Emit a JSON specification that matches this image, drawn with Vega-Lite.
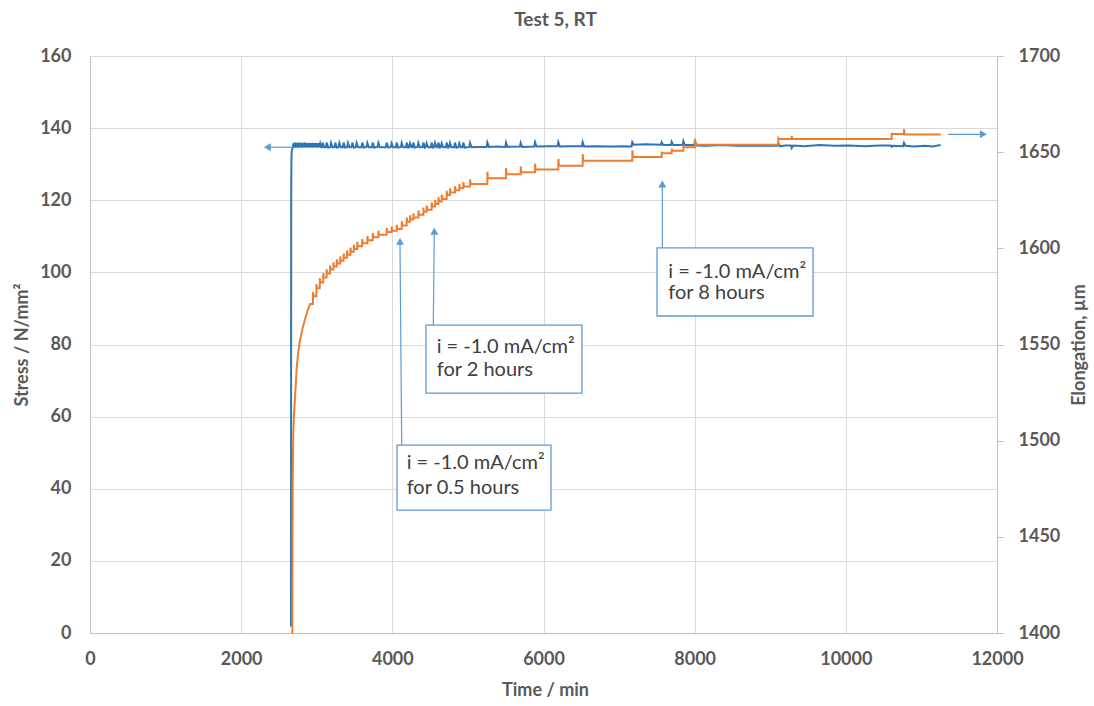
{
  "$schema": "https://vega.github.io/schema/vega-lite/v6.json",
  "width": 907,
  "height": 577,
  "autosize": {"type": "none"},
  "padding": {"left": 90, "top": 56, "right": 97, "bottom": 73},
  "background": "white",
  "title": {"text": "Test 5, RT", "anchor": "middle", "dx": 12, "offset": 17, "fontSize": 19, "font": "Lato", "fontWeight": "bold", "color": "#595959"},
  "config": {
    "view": {"stroke": null},
    "axis": {
      "labelFont": "Lato", "labelFontSize": 18, "labelFontWeight": "bold", "labelColor": "#595959",
      "titleFont": "Lato", "titleFontSize": 18, "titleFontWeight": "bold", "titleColor": "#595959",
      "domainColor": "#bfbfbf", "gridColor": "#d9d9d9", "tickColor": "#bfbfbf", "labelFlush": false, "format": "d"
    }
  },
  "datasets": {
    "stress": [
      {"t":2659,"v":1.8},{"t":2660,"v":40},{"t":2661,"v":90},{"t":2662,"v":120},{"t":2664,"v":130},{"t":2668,"v":133.5},{"t":2680,"v":134.5},
      {"t":2695,"v":135.9},{"t":2705,"v":134.6},{"t":2720,"v":136.0},{"t":2730,"v":134.6},{"t":2745,"v":135.9},{"t":2755,"v":134.6},{"t":2770,"v":136.0},{"t":2780,"v":134.7},{"t":2795,"v":135.9},{"t":2805,"v":134.6},{"t":2820,"v":135.9},{"t":2830,"v":134.7},{"t":2845,"v":136.0},{"t":2855,"v":134.6},{"t":2870,"v":135.8},{"t":2880,"v":134.7},{"t":2895,"v":135.9},{"t":2905,"v":134.6},{"t":2920,"v":135.8},{"t":2930,"v":134.7},{"t":2945,"v":135.9},{"t":2955,"v":134.6},{"t":2970,"v":135.8},{"t":2980,"v":134.7},{"t":2995,"v":135.8},{"t":3005,"v":134.6},{"t":3020,"v":135.8},{"t":3030,"v":134.7},{"t":3045,"v":135.8},{"t":3058,"v":134.7},
      {"t":3068,"v":134.7},{"t":3078,"v":136.0},{"t":3098,"v":134.7},
      {"t":3121,"v":134.7},{"t":3131,"v":136.0},{"t":3151,"v":134.6},
      {"t":3179,"v":134.7},{"t":3189,"v":135.9},{"t":3209,"v":134.7},
      {"t":3236,"v":134.7},{"t":3246,"v":136.0},{"t":3266,"v":134.6},
      {"t":3289,"v":134.7},{"t":3299,"v":135.9},{"t":3319,"v":134.7},
      {"t":3346,"v":134.7},{"t":3356,"v":136.0},{"t":3376,"v":134.6},
      {"t":3403,"v":134.7},{"t":3413,"v":135.9},{"t":3433,"v":134.7},
      {"t":3461,"v":134.7},{"t":3471,"v":136.0},{"t":3491,"v":134.6},
      {"t":3518,"v":134.7},{"t":3528,"v":135.9},{"t":3548,"v":134.7},
      {"t":3593,"v":134.7},{"t":3603,"v":136.0},{"t":3623,"v":134.6},
      {"t":3659,"v":134.8},{"t":3669,"v":135.9},{"t":3689,"v":134.7},
      {"t":3730,"v":134.7},{"t":3740,"v":136.0},{"t":3760,"v":134.6},
      {"t":3805,"v":134.8},{"t":3815,"v":135.9},{"t":3835,"v":134.7},
      {"t":3915,"v":134.7},{"t":3925,"v":136.0},{"t":3945,"v":134.6},
      {"t":3981,"v":134.8},{"t":3991,"v":135.8},{"t":4011,"v":134.7},
      {"t":4047,"v":134.7},{"t":4057,"v":136.0},{"t":4077,"v":134.6},
      {"t":4114,"v":134.8},{"t":4124,"v":135.9},{"t":4144,"v":134.7},
      {"t":4180,"v":134.7},{"t":4190,"v":136.0},{"t":4210,"v":134.6},
      {"t":4224,"v":134.8},{"t":4234,"v":135.8},{"t":4254,"v":134.7},
      {"t":4268,"v":134.7},{"t":4278,"v":136.0},{"t":4298,"v":134.6},
      {"t":4334,"v":134.8},{"t":4344,"v":135.9},{"t":4364,"v":134.7},
      {"t":4400,"v":134.7},{"t":4410,"v":136.0},{"t":4430,"v":134.6},
      {"t":4444,"v":134.8},{"t":4454,"v":135.8},{"t":4474,"v":134.7},
      {"t":4510,"v":134.7},{"t":4520,"v":136.0},{"t":4540,"v":134.6},
      {"t":4555,"v":134.8},{"t":4565,"v":135.9},{"t":4585,"v":134.7},
      {"t":4599,"v":134.7},{"t":4609,"v":136.0},{"t":4629,"v":134.6},
      {"t":4643,"v":134.8},{"t":4653,"v":135.8},{"t":4673,"v":134.7},
      {"t":4709,"v":134.7},{"t":4719,"v":136.0},{"t":4739,"v":134.6},
      {"t":4753,"v":134.8},{"t":4763,"v":135.9},{"t":4783,"v":134.7},
      {"t":4819,"v":134.7},{"t":4829,"v":136.0},{"t":4849,"v":134.6},
      {"t":4876,"v":134.8},{"t":4886,"v":135.8},{"t":4906,"v":134.7},
      {"t":4929,"v":134.7},{"t":4939,"v":136.0},{"t":4959,"v":134.6},
      {"t":5018,"v":134.8},{"t":5028,"v":135.9},{"t":5048,"v":134.7},
      {"t":5140,"v":134.8},
      {"t":5247,"v":134.8},{"t":5257,"v":136.0},{"t":5277,"v":134.8},
      {"t":5380,"v":134.9},
      {"t":5494,"v":134.8},{"t":5504,"v":136.0},{"t":5524,"v":134.8},
      {"t":5688,"v":134.9},{"t":5698,"v":135.9},{"t":5718,"v":134.8},
      {"t":5878,"v":134.9},{"t":5888,"v":136.1},{"t":5908,"v":134.9},
      {"t":6050,"v":135.0},
      {"t":6186,"v":135.0},{"t":6196,"v":136.1},{"t":6216,"v":134.9},
      {"t":6350,"v":135.0},
      {"t":6508,"v":135.0},{"t":6518,"v":136.1},{"t":6538,"v":134.9},
      {"t":6700,"v":135.0},{"t":6900,"v":134.9},{"t":7050,"v":135.0},
      {"t":7165,"v":134.9},{"t":7175,"v":136.1},{"t":7195,"v":135.4},
      {"t":7350,"v":135.5},
      {"t":7553,"v":135.4},{"t":7563,"v":136.1},{"t":7583,"v":135.3},
      {"t":7686,"v":135.3},{"t":7696,"v":136.2},{"t":7716,"v":135.3},
      {"t":7840,"v":135.3},{"t":7850,"v":136.4},{"t":7870,"v":135.3},
      {"t":7994,"v":135.3},{"t":8004,"v":136.5},{"t":8024,"v":135.2},
      {"t":8150,"v":135.1},{"t":8350,"v":135.3},{"t":8550,"v":135.1},{"t":8750,"v":135.2},{"t":8950,"v":135.1},
      {"t":9097,"v":135.1},{"t":9107,"v":135.8},{"t":9127,"v":135.0},{"t":9200,"v":135.2},
      {"t":9273,"v":135.2},{"t":9283,"v":134.5},{"t":9303,"v":135.2},
      {"t":9450,"v":135.0},{"t":9650,"v":135.3},{"t":9850,"v":135.1},{"t":10050,"v":135.2},{"t":10250,"v":135.0},{"t":10450,"v":135.2},
      {"t":10596,"v":135.2},{"t":10606,"v":134.8},{"t":10626,"v":135.1},
      {"t":10759,"v":135.0},{"t":10769,"v":135.9},{"t":10789,"v":135.1},
      {"t":10900,"v":134.9},{"t":11050,"v":135.1},{"t":11150,"v":134.9},{"t":11254,"v":135.3}
    ],
    "elong": [
      {"t":2677,"e":1400},{"t":2678,"e":1420},{"t":2679,"e":1445},{"t":2682,"e":1480},{"t":2690,"e":1505},{"t":2700,"e":1514},{"t":2713,"e":1523},{"t":2735,"e":1538},{"t":2755,"e":1546},{"t":2778,"e":1552},{"t":2810,"e":1558},{"t":2844,"e":1563},{"t":2878,"e":1567.5},{"t":2911,"e":1571},
      {"t":2950,"e":1571.0},{"t":2951,"e":1577.3},{"t":2958,"e":1575.1},
      {"t":2995,"e":1575.1},{"t":2996,"e":1581.4},{"t":3003,"e":1579.2},
      {"t":3040,"e":1579.2},{"t":3041,"e":1584.4},{"t":3048,"e":1582.2},
      {"t":3085,"e":1582.2},{"t":3086,"e":1587.1},{"t":3093,"e":1584.9},
      {"t":3130,"e":1584.9},{"t":3131,"e":1589.1},{"t":3138,"e":1586.9},
      {"t":3175,"e":1586.9},{"t":3176,"e":1591.2},{"t":3183,"e":1589.0},
      {"t":3220,"e":1589.0},{"t":3221,"e":1592.7},{"t":3228,"e":1590.5},
      {"t":3265,"e":1590.5},{"t":3266,"e":1594.3},{"t":3273,"e":1592.1},
      {"t":3310,"e":1592.1},{"t":3311,"e":1595.8},{"t":3318,"e":1593.6},
      {"t":3355,"e":1593.6},{"t":3356,"e":1597.3},{"t":3363,"e":1595.1},
      {"t":3400,"e":1595.1},{"t":3401,"e":1598.9},{"t":3408,"e":1596.7},
      {"t":3445,"e":1596.7},{"t":3446,"e":1600.4},{"t":3453,"e":1598.2},
      {"t":3490,"e":1598.2},{"t":3491,"e":1601.9},{"t":3498,"e":1599.7},
      {"t":3535,"e":1599.7},{"t":3536,"e":1603.3},{"t":3543,"e":1601.1},
      {"t":3600,"e":1601.1},{"t":3601,"e":1604.8},{"t":3608,"e":1602.6},
      {"t":3670,"e":1602.6},{"t":3671,"e":1606.4},{"t":3678,"e":1604.2},
      {"t":3740,"e":1604.2},{"t":3741,"e":1608.0},{"t":3748,"e":1605.8},
      {"t":3815,"e":1605.8},{"t":3816,"e":1609.2},{"t":3823,"e":1607.0},
      {"t":3925,"e":1607.0},{"t":3926,"e":1610.7},{"t":3933,"e":1608.5},
      {"t":3991,"e":1608.5},{"t":3992,"e":1611.4},{"t":3999,"e":1609.2},
      {"t":4057,"e":1609.2},{"t":4058,"e":1612.2},{"t":4065,"e":1610.0},
      {"t":4124,"e":1610.0},{"t":4125,"e":1614.1},{"t":4132,"e":1611.9},
      {"t":4190,"e":1611.9},{"t":4191,"e":1616.0},{"t":4198,"e":1613.8},
      {"t":4234,"e":1613.8},{"t":4235,"e":1617.2},{"t":4242,"e":1615.0},
      {"t":4278,"e":1615.0},{"t":4279,"e":1618.2},{"t":4286,"e":1616.0},
      {"t":4344,"e":1616.0},{"t":4345,"e":1619.7},{"t":4352,"e":1617.5},
      {"t":4410,"e":1617.5},{"t":4411,"e":1621.2},{"t":4418,"e":1619.0},
      {"t":4454,"e":1619.0},{"t":4455,"e":1622.2},{"t":4462,"e":1620.0},
      {"t":4520,"e":1620.0},{"t":4521,"e":1623.9},{"t":4528,"e":1621.7},
      {"t":4565,"e":1621.7},{"t":4566,"e":1625.2},{"t":4573,"e":1623.0},
      {"t":4609,"e":1623.0},{"t":4610,"e":1626.6},{"t":4617,"e":1624.4},
      {"t":4653,"e":1624.4},{"t":4654,"e":1627.9},{"t":4661,"e":1625.7},
      {"t":4719,"e":1625.7},{"t":4720,"e":1629.9},{"t":4727,"e":1627.7},
      {"t":4763,"e":1627.7},{"t":4764,"e":1631.2},{"t":4771,"e":1629.0},
      {"t":4829,"e":1629.0},{"t":4830,"e":1632.4},{"t":4837,"e":1630.2},
      {"t":4886,"e":1630.2},{"t":4887,"e":1633.4},{"t":4894,"e":1631.2},
      {"t":4939,"e":1631.2},{"t":4940,"e":1634.4},{"t":4947,"e":1632.2},
      {"t":5028,"e":1632.2},{"t":5029,"e":1635.8},{"t":5036,"e":1633.5},
      {"t":5257,"e":1633.5},{"t":5258,"e":1639.8},{"t":5265,"e":1636.4},
      {"t":5504,"e":1636.4},{"t":5505,"e":1641.8},{"t":5512,"e":1638.5},
      {"t":5698,"e":1638.5},{"t":5699,"e":1642.6},{"t":5706,"e":1639.5},
      {"t":5888,"e":1639.5},{"t":5889,"e":1644.0},{"t":5896,"e":1641.0},
      {"t":6196,"e":1641.0},{"t":6197,"e":1646.5},{"t":6204,"e":1643.0},
      {"t":6518,"e":1643.0},{"t":6519,"e":1649.0},{"t":6526,"e":1645.6},
      {"t":7175,"e":1645.6},{"t":7176,"e":1651.0},{"t":7183,"e":1647.5},
      {"t":7563,"e":1647.5},{"t":7564,"e":1650.2},{"t":7571,"e":1649.4},
      {"t":7696,"e":1649.4},{"t":7697,"e":1651.8},{"t":7704,"e":1650.8},
      {"t":7850,"e":1650.8},{"t":7851,"e":1653.8},{"t":7858,"e":1652.6},
      {"t":8004,"e":1652.6},{"t":8005,"e":1657.0},{"t":8012,"e":1653.9},
      {"t":9107,"e":1653.9},{"t":9108,"e":1657.2},{"t":9115,"e":1656.8},
      {"t":9283,"e":1656.8},{"t":9284,"e":1658.5},{"t":9291,"e":1656.8},
      {"t":10606,"e":1656.8},{"t":10607,"e":1660.0},{"t":10614,"e":1659.4},
      {"t":10769,"e":1659.4},{"t":10770,"e":1662.0},{"t":10777,"e":1659.2},
      {"t":11254,"e":1659.2}
    ],
    "boxes": [
      {"t":4062,"t2":6099,"v":34.1,"v2":52.1},
      {"t":4445,"t2":6509,"v":66.5,"v2":85.4},
      {"t":7502,"t2":9566,"v":87.9,"v2":106.8}
    ],
    "notes": [
      {"t":4190,"v":47.1,"label":"i = -1.0 mA/cm²"},
      {"t":4190,"v":40.1,"label":"for 0.5 hours"},
      {"t":4587,"v":79.4,"label":"i = -1.0 mA/cm²"},
      {"t":4587,"v":72.9,"label":"for 2 hours"},
      {"t":7651,"v":100.2,"label":"i = -1.0 mA/cm²"},
      {"t":7651,"v":94.2,"label":"for 8 hours"}
    ],
    "leaders": [
      {"t":4124,"v":52.2,"t2":4101,"v2":108.6},
      {"t":4542,"v":85.4,"t2":4555,"v2":111.4},
      {"t":7572,"v":106.8,"t2":7572,"v2":124.5},
      {"t":2686,"v":134.7,"t2":2346,"v2":134.7}
    ],
    "heads": [
      {"t":4101,"v":108.6,"dir":"up"},
      {"t":4555,"v":111.4,"dir":"up"},
      {"t":7572,"v":124.5,"dir":"up"},
      {"t":2346,"v":134.7,"dir":"left"}
    ],
    "elongArrow": [
      {"t":11352,"e":1659.3,"t2":11820,"dir":"right"}
    ]
  },
  "layer": [
    {
      "layer": [
        {
          "data": {"name": "stress"},
          "mark": {"type": "line", "color": "#2e75b6", "strokeWidth": 2},
          "encoding": {
            "x": {"field": "t", "type": "quantitative", "scale": {"domain": [0, 12000], "nice": false},
                  "axis": {"title": "Time / min", "values": [0, 2000, 4000, 6000, 8000, 10000, 12000], "ticks": false, "labelPadding": 17, "grid": true,
                           "titleX": 455, "titleY": 57, "titleBaseline": "middle"}},
            "y": {"field": "v", "type": "quantitative", "scale": {"domain": [0, 160], "nice": false},
                  "axis": {"title": "Stress / N/mm²", "orient": "left", "values": [0, 20, 40, 60, 80, 100, 120, 140, 160], "ticks": false, "labelPadding": 19, "grid": true,
                           "titleX": -68, "titleY": 288.5, "titleAngle": 270, "titleBaseline": "middle", "titleAlign": "center"}}
          }
        },
        {
          "data": {"name": "leaders"},
          "mark": {"type": "rule", "color": "#5b9bd5", "strokeWidth": 1.2},
          "encoding": {
            "x": {"field": "t", "type": "quantitative"},
            "x2": {"field": "t2"},
            "y": {"field": "v", "type": "quantitative"},
            "y2": {"field": "v2"}
          }
        },
        {
          "data": {"name": "heads"},
          "mark": {"type": "point", "filled": true, "color": "#5b9bd5", "opacity": 1, "size": 64},
          "encoding": {
            "x": {"field": "t", "type": "quantitative"},
            "y": {"field": "v", "type": "quantitative"},
            "shape": {"field": "dir", "type": "nominal", "scale": {"domain": ["up", "left"], "range": ["triangle-up", "triangle-left"]}, "legend": null}
          }
        },
        {
          "data": {"name": "boxes"},
          "mark": {"type": "rect", "fill": "white", "stroke": "#5b9bd5", "strokeWidth": 1.3},
          "encoding": {
            "x": {"field": "t", "type": "quantitative"},
            "x2": {"field": "t2"},
            "y": {"field": "v", "type": "quantitative"},
            "y2": {"field": "v2"}
          }
        },
        {
          "data": {"name": "notes"},
          "mark": {"type": "text", "align": "left", "baseline": "middle", "font": "Lato", "fontSize": 20, "color": "#404040"},
          "encoding": {
            "x": {"field": "t", "type": "quantitative"},
            "y": {"field": "v", "type": "quantitative"},
            "text": {"field": "label"}
          }
        }
      ]
    },
    {
      "layer": [
        {
          "data": {"name": "elong"},
          "mark": {"type": "line", "color": "#ed7d31", "strokeWidth": 2},
          "encoding": {
            "x": {"field": "t", "type": "quantitative"},
            "y": {"field": "e", "type": "quantitative", "scale": {"domain": [1400, 1700], "nice": false},
                  "axis": {"title": "Elongation, µm", "orient": "right", "values": [1400, 1450, 1500, 1550, 1600, 1650, 1700], "ticks": true, "tickSize": 6, "labelPadding": 15, "grid": false,
                           "titleX": 82, "titleY": 288.5, "titleAngle": 270, "titleBaseline": "middle", "titleAlign": "center"}}
          }
        },
        {
          "data": {"name": "elongArrow"},
          "mark": {"type": "rule", "color": "#5b9bd5", "strokeWidth": 1.2},
          "encoding": {
            "x": {"field": "t", "type": "quantitative"},
            "x2": {"field": "t2"},
            "y": {"field": "e", "type": "quantitative"}
          }
        },
        {
          "data": {"name": "elongArrow"},
          "mark": {"type": "point", "filled": true, "color": "#5b9bd5", "opacity": 1, "size": 64, "shape": "triangle-right"},
          "encoding": {
            "x": {"field": "t2", "type": "quantitative"},
            "y": {"field": "e", "type": "quantitative"}
          }
        }
      ]
    }
  ],
  "resolve": {"scale": {"y": "independent"}}
}
